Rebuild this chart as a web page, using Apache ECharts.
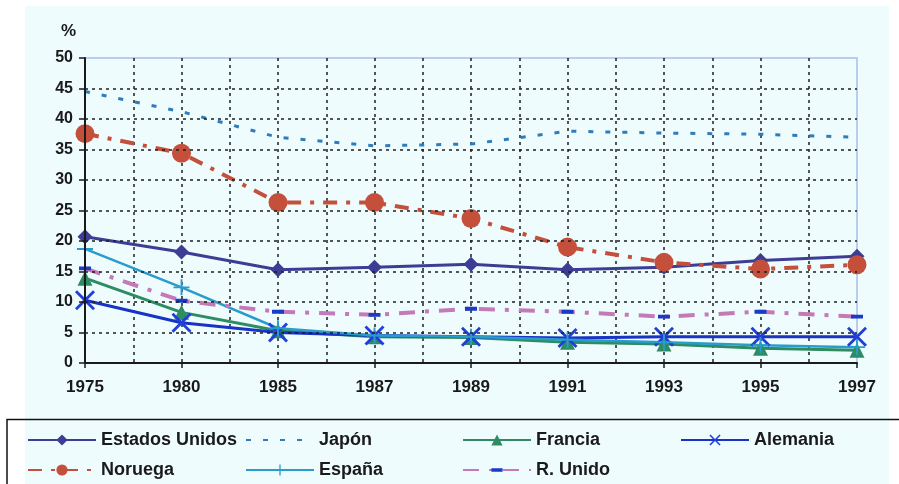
<!DOCTYPE html>
<html>
<head>
<meta charset="utf-8">
<script src="https://cdn.jsdelivr.net/npm/echarts@6/dist/echarts.min.js"></script>
<style>
  html, body { margin: 0; padding: 0; background: #fff; }
  #chart { width: 899px; height: 484px; }
</style>
</head>
<body>
<div id="chart"></div>
<script>
// datos
var years = ['1975', '1980', '1985', '1987', '1989', '1991', '1993', '1995', '1997'];
var estadosUnidos = [20.7, 18.2, 15.3, 15.7, 16.2, 15.3, 15.7, 16.8, 17.5];
var japon = [44.5, 41.2, 37.0, 35.6, 35.9, 38.0, 37.7, 37.5, 37.0];
var francia = [13.9, 8.3, 5.3, 4.3, 4.2, 3.4, 3.1, 2.4, 2.1];
var alemania = [10.3, 6.6, 5.0, 4.5, 4.3, 4.1, 4.3, 4.3, 4.3];
var noruega = [37.6, 34.4, 26.3, 26.3, 23.7, 19.0, 16.5, 15.4, 16.1];
var espana = [18.7, 12.4, 5.7, 4.5, 4.3, 3.8, 3.4, 2.9, 2.6];
var rUnido = [15.5, 10.2, 8.4, 7.9, 8.9, 8.4, 7.6, 8.4, 7.6];
var yTicks = [0, 5, 10, 15, 20, 25, 30, 35, 40, 45, 50];

var chartDom = document.getElementById('chart');
var myChart = echarts.init(chartDom);

var dotColor = '#1e1e1e';
var gridFont = 'Liberation Sans, Arial, sans-serif';

// lineas de rejilla: la primera y la ultima se ocultan (borde del area)
var hColors = yTicks.map(function (v, i) {
    return (i === 0 || i === yTicks.length - 1) ? 'rgba(0,0,0,0)' : dotColor;
});
var vColors = [];
for (var i = 0; i <= 16; i++) {
    vColors.push((i === 0 || i === 16) ? 'rgba(0,0,0,0)' : dotColor);
}

// simbolos: aspa, cruz y guion (el guion lleva dos puntos minimos para que su caja sea cuadrada)
var crossX = 'path://M0,1L1,0L5,4L9,0L10,1L6,5L10,9L9,10L5,6L1,10L0,9L4,5Z';
var plus = 'path://M4.4,0H5.6V4.4H10V5.6H5.6V10H4.4V5.6H0V4.4H4.4Z';
var dash = 'path://M0,3.4H10V6.6H0Z M5,0L5.01,0L5,0.01Z M5,10L5.01,10L5,9.99Z';

function legendAt(item, x, y) {
    return {
        data: [item],
        left: x,
        top: y,
        padding: 0,
        itemWidth: 68,
        itemHeight: 14,
        selectedMode: false,
        textStyle: {
            fontFamily: gridFont,
            fontWeight: 'bold',
            fontSize: 18,
            color: '#1a1a1a'
        }
    };
}

var option = {
    animation: false,
    backgroundColor: '#ffffff',
    graphic: [
        {
            type: 'rect',
            z: -10,
            shape: { x: 25, y: 6, width: 864, height: 478 },
            style: { fill: '#effcfe' }
        },
        {
            type: 'polyline',
            z: -5,
            shape: { points: [[7, 484], [7, 419.5], [899, 419.5]] },
            style: { stroke: '#111', lineWidth: 1.5, fill: null }
        },
        {
            type: 'text',
            left: 61,
            top: 23,
            style: {
                text: '%',
                font: 'bold 17px Liberation Sans, Arial, sans-serif',
                fill: '#1a1a1a'
            }
        }
    ],
    legend: [
        legendAt('Estados Unidos', 27, 431),
        legendAt({ name: 'Japón', itemStyle: { opacity: 0 } }, 245, 431),
        legendAt('Francia', 462, 431),
        legendAt('Alemania', 680, 431),
        legendAt('Noruega', 27, 461),
        legendAt('España', 245, 461),
        legendAt('R. Unido', 462, 461)
    ],
    grid: {
        left: 85,
        right: 42,
        top: 58,
        bottom: 121,
        show: true,
        backgroundColor: 'rgba(0,0,0,0)',
        borderColor: '#a9bde6',
        borderWidth: 1.5
    },
    xAxis: [
        {
            type: 'category',
            data: years,
            boundaryGap: false,
            axisLine: { lineStyle: { color: '#1a1a1a', width: 2 } },
            axisTick: { show: true, length: 5, lineStyle: { color: '#1a1a1a', width: 1.5 } },
            axisLabel: {
                margin: 16,
                fontFamily: gridFont,
                fontWeight: 'bold',
                fontSize: 17,
                color: '#1a1a1a'
            },
            splitLine: { show: false },
            z: 5
        },
        {
            type: 'value',
            position: 'bottom',
            min: 0,
            max: 16,
            interval: 1,
            axisLine: { show: false },
            axisTick: { show: false },
            axisLabel: { show: false },
            splitLine: {
                show: true,
                lineStyle: { color: vColors, width: 1.5, type: [3, 4] }
            }
        }
    ],
    yAxis: {
        type: 'value',
        min: 0,
        max: 50,
        interval: 5,
        axisLine: { show: true, lineStyle: { color: '#1a1a1a', width: 2 } },
        axisTick: { show: true, length: 6, lineStyle: { color: '#1a1a1a', width: 1.5 } },
        axisLabel: {
            margin: 12,
            fontFamily: gridFont,
            fontWeight: 'bold',
            fontSize: 16,
            color: '#1a1a1a'
        },
        splitLine: {
            show: true,
            lineStyle: { color: hColors, width: 1.5, type: [3, 4] }
        },
        z: 5
    },
    series: [
        {
            name: 'Estados Unidos',
            type: 'line',
            data: estadosUnidos,
            symbol: 'diamond',
            symbolSize: 15,
            itemStyle: { color: '#3d3d96' },
            lineStyle: { color: '#3d3d96', width: 3 }
        },
        {
            name: 'Japón',
            type: 'line',
            data: japon,
            symbol: 'none',
            itemStyle: { color: '#2f7cbd' },
            lineStyle: { color: '#2f7cbd', width: 3, type: [5, 12] }
        },
        {
            name: 'Francia',
            type: 'line',
            data: francia,
            symbol: 'triangle',
            symbolSize: 15,
            itemStyle: { color: '#2e8c62' },
            lineStyle: { color: '#2e8c62', width: 3 }
        },
        {
            name: 'Alemania',
            type: 'line',
            data: alemania,
            symbol: crossX,
            symbolSize: 20,
            itemStyle: { color: '#1f3fd6' },
            lineStyle: { color: '#1933c4', width: 3 }
        },
        {
            name: 'Noruega',
            type: 'line',
            data: noruega,
            symbol: 'circle',
            symbolSize: 19,
            itemStyle: { color: '#c4503b' },
            lineStyle: { color: '#c4503b', width: 4, type: [14, 9, 4, 9] }
        },
        {
            name: 'España',
            type: 'line',
            data: espana,
            symbol: plus,
            symbolSize: 16,
            itemStyle: { color: '#2a9ccc' },
            lineStyle: { color: '#2a9ccc', width: 2.5 }
        },
        {
            name: 'R. Unido',
            type: 'line',
            data: rUnido,
            symbol: dash,
            symbolSize: 12,
            itemStyle: { color: '#1a3ac8' },
            lineStyle: { color: '#c47ab6', width: 4, type: [16, 10, 4, 10] }
        }
    ]
};

option && myChart.setOption(option);
</script>
</body>
</html>
